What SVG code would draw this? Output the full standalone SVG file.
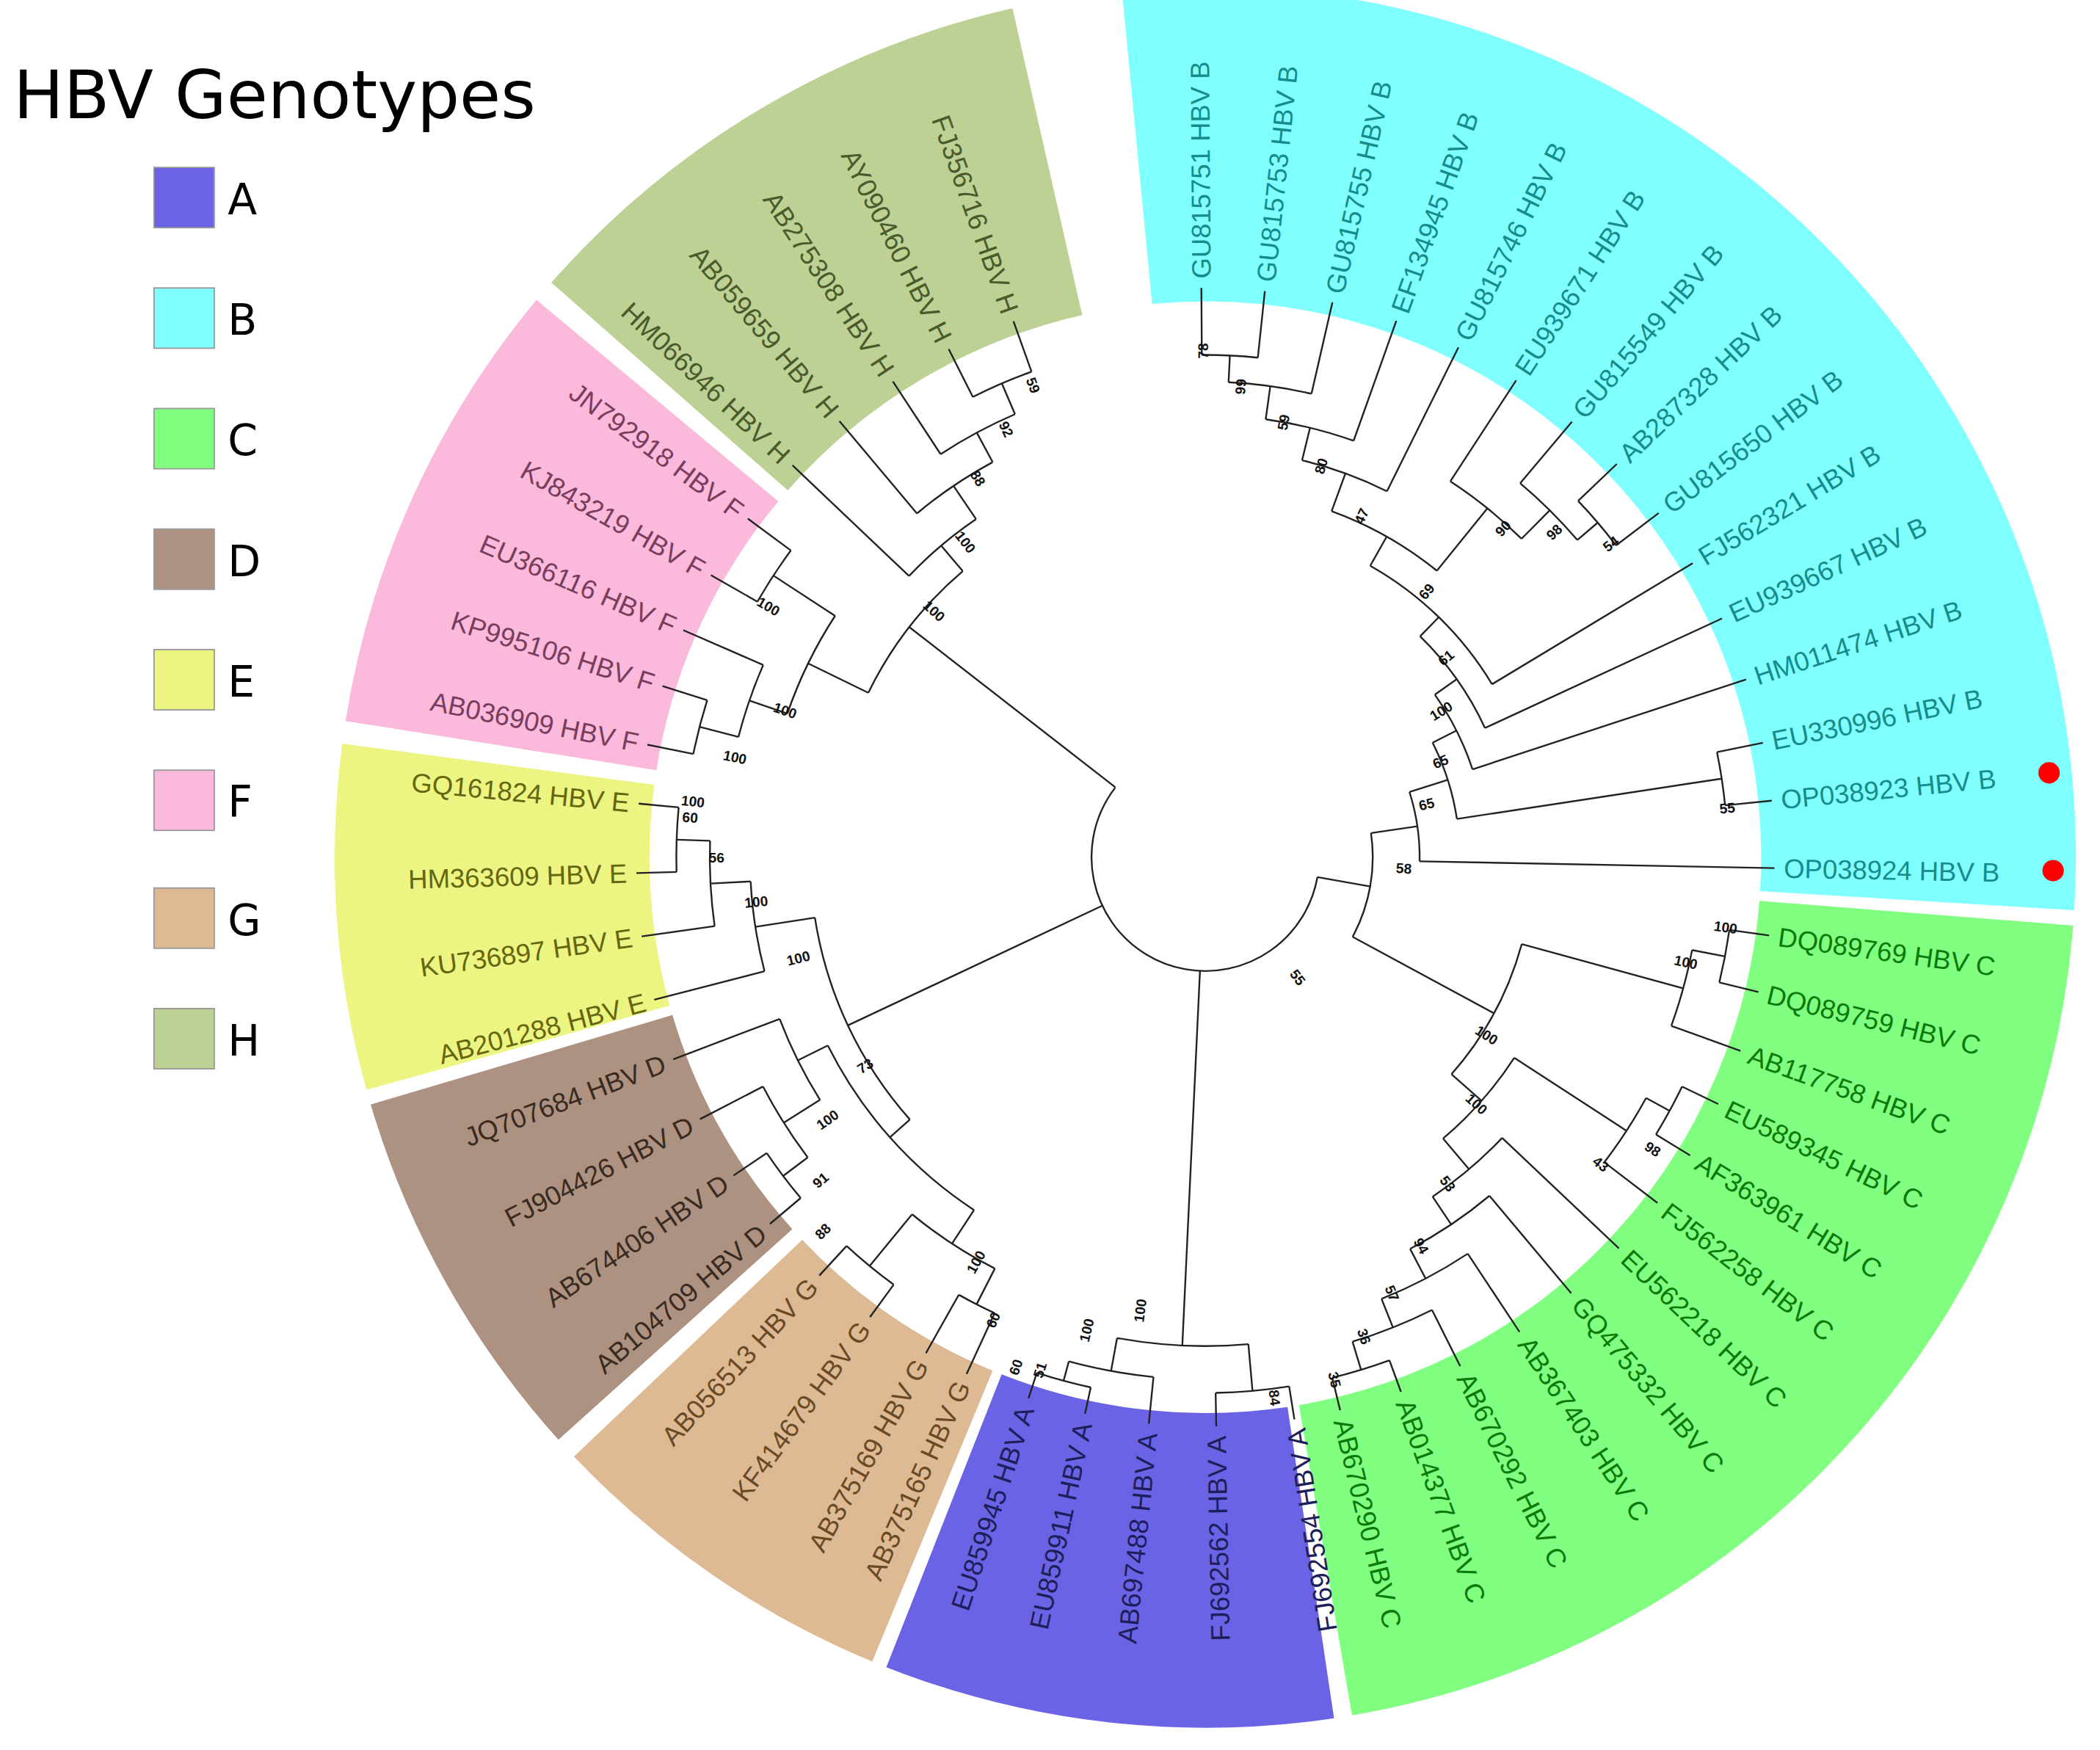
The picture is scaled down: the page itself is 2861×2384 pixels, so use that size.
<svg xmlns="http://www.w3.org/2000/svg" width="2861" height="2384" viewBox="0 0 2861 2384">
<style>
.t{fill:none;stroke:#222;stroke-width:1.3}
.band{fill:none;stroke-width:235}
.lb{font-family:"Liberation Sans",Arial,sans-serif;font-size:20px}
.L{text-anchor:end}
.bs{font-family:"Liberation Sans",Arial,sans-serif;font-size:10.5px;font-weight:bold;fill:#111;text-anchor:middle}
.lg{font-family:"DejaVu Sans",Verdana,sans-serif;fill:#000}
.cA{fill:#1e1e5a}.cB{fill:#178c8c}.cC{fill:#0a7a0a}.cD{fill:#3a2a20}.cE{fill:#66660f}.cF{fill:#7a3d5c}.cG{fill:#6a4a25}.cH{fill:#4b5a2b}
</style>
<rect width="2861" height="2384" fill="#fff"/>
<g transform="scale(1.8246)">
<g id="legend">
<text class="lg" x="10" y="88" font-size="50">HBV Genotypes</text>
<rect x="115" y="125" width="45" height="45" fill="#6b63e6" stroke="#999"/><text class="lg" x="170" y="160" font-size="32">A</text>
<rect x="115" y="215" width="45" height="45" fill="#80ffff" stroke="#999"/><text class="lg" x="170" y="250" font-size="32">B</text>
<rect x="115" y="305" width="45" height="45" fill="#80ff80" stroke="#999"/><text class="lg" x="170" y="340" font-size="32">C</text>
<rect x="115" y="395" width="45" height="45" fill="#ad9282" stroke="#999"/><text class="lg" x="170" y="430" font-size="32">D</text>
<rect x="115" y="485" width="45" height="45" fill="#ecf582" stroke="#999"/><text class="lg" x="170" y="520" font-size="32">E</text>
<rect x="115" y="575" width="45" height="45" fill="#fbb9dc" stroke="#999"/><text class="lg" x="170" y="610" font-size="32">F</text>
<rect x="115" y="663" width="45" height="45" fill="#deba94" stroke="#999"/><text class="lg" x="170" y="698" font-size="32">G</text>
<rect x="115" y="753" width="45" height="45" fill="#bdd194" stroke="#999"/><text class="lg" x="170" y="788" font-size="32">H</text>
</g>
<g transform="translate(900,640)">
<g id="bands">
<circle class="band" r="532.5" pathLength="360" stroke="#80ffff" stroke-dasharray="99 999" transform="rotate(-95.5)"/>
<circle class="band" r="532.5" pathLength="360" stroke="#80ff80" stroke-dasharray="75.8 999" transform="rotate(4.5)"/>
<circle class="band" r="532.5" pathLength="360" stroke="#6b63e6" stroke-dasharray="30 999" transform="rotate(81.5)"/>
<circle class="band" r="532.5" pathLength="360" stroke="#deba94" stroke-dasharray="24 999" transform="rotate(112.5)"/>
<circle class="band" r="532.5" pathLength="360" stroke="#ad9282" stroke-dasharray="25.5 999" transform="rotate(138)"/>
<circle class="band" r="532.5" pathLength="360" stroke="#ecf582" stroke-dasharray="23 999" transform="rotate(164.5)"/>
<circle class="band" r="532.5" pathLength="360" stroke="#fbb9dc" stroke-dasharray="30.8 999" transform="rotate(189)"/>
<circle class="band" r="532.5" pathLength="360" stroke="#bdd194" stroke-dasharray="35.9 999" transform="rotate(221.3)"/>
</g>
<g id="connectors" class="t">
<circle r="385" pathLength="360" stroke-dasharray="6.5 999" transform="rotate(-43.7)"/><path d="M385 0H425" transform="rotate(-37.2)"/><path d="M385 0H425" transform="rotate(-43.7)"/>
<circle r="365" pathLength="360" stroke-dasharray="9.45 999" transform="rotate(-49.9)"/><path d="M365 0H385" transform="rotate(-40.45)"/><path d="M365 0H425" transform="rotate(-49.9)"/>
<circle r="335" pathLength="360" stroke-dasharray="11.7 999" transform="rotate(-56.9)"/><path d="M335 0H365" transform="rotate(-45.2)"/><path d="M335 0H425" transform="rotate(-56.9)"/>
<circle r="375" pathLength="360" stroke-dasharray="6.4 999" transform="rotate(-90.4)"/><path d="M375 0H425" transform="rotate(-84)"/><path d="M375 0H425" transform="rotate(-90.4)"/>
<circle r="355" pathLength="360" stroke-dasharray="10.1 999" transform="rotate(-87.2)"/><path d="M355 0H375" transform="rotate(-87.2)"/><path d="M355 0H425" transform="rotate(-77.1)"/>
<circle r="330" pathLength="360" stroke-dasharray="11.75 999" transform="rotate(-82.15)"/><path d="M330 0H355" transform="rotate(-82.15)"/><path d="M330 0H425" transform="rotate(-70.4)"/>
<circle r="305" pathLength="360" stroke-dasharray="12.7 999" transform="rotate(-76.3)"/><path d="M305 0H330" transform="rotate(-76.3)"/><path d="M305 0H425" transform="rotate(-63.6)"/>
<circle r="275" pathLength="360" stroke-dasharray="18.9 999" transform="rotate(-69.95)"/><path d="M275 0H305" transform="rotate(-69.95)"/><path d="M275 0H335" transform="rotate(-51.05)"/>
<circle r="250" pathLength="360" stroke-dasharray="29.4 999" transform="rotate(-60.5)"/><path d="M250 0H275" transform="rotate(-60.5)"/><path d="M250 0H425" transform="rotate(-31.1)"/>
<circle r="230" pathLength="360" stroke-dasharray="21 999" transform="rotate(-45.8)"/><path d="M230 0H250" transform="rotate(-45.8)"/><path d="M230 0H425" transform="rotate(-24.8)"/>
<circle r="210" pathLength="360" stroke-dasharray="17.1 999" transform="rotate(-35.3)"/><path d="M210 0H230" transform="rotate(-35.3)"/><path d="M210 0H425" transform="rotate(-18.2)"/>
<circle r="390" pathLength="360" stroke-dasharray="5.9 999" transform="rotate(-11.6)"/><path d="M390 0H425" transform="rotate(-5.7)"/><path d="M390 0H425" transform="rotate(-11.6)"/>
<circle r="190" pathLength="360" stroke-dasharray="18.1 999" transform="rotate(-26.75)"/><path d="M190 0H210" transform="rotate(-26.75)"/><path d="M190 0H390" transform="rotate(-8.65)"/>
<circle r="160" pathLength="360" stroke-dasharray="18.8 999" transform="rotate(-17.7)"/><path d="M160 0H190" transform="rotate(-17.7)"/><path d="M160 0H425" transform="rotate(1.1)"/>
<circle r="395" pathLength="360" stroke-dasharray="5.8 999" transform="rotate(7.9)"/><path d="M395 0H425" transform="rotate(7.9)"/><path d="M395 0H425" transform="rotate(13.7)"/>
<circle r="370" pathLength="360" stroke-dasharray="9.1 999" transform="rotate(10.8)"/><path d="M370 0H395" transform="rotate(10.8)"/><path d="M370 0H425" transform="rotate(19.9)"/>
<circle r="395" pathLength="360" stroke-dasharray="5.9 999" transform="rotate(25.7)"/><path d="M395 0H425" transform="rotate(25.7)"/><path d="M395 0H425" transform="rotate(31.6)"/>
<circle r="375" pathLength="360" stroke-dasharray="8.75 999" transform="rotate(28.65)"/><path d="M375 0H395" transform="rotate(28.65)"/><path d="M375 0H425" transform="rotate(37.4)"/>
<circle r="400" pathLength="360" stroke-dasharray="6.4 999" transform="rotate(69.9)"/><path d="M400 0H425" transform="rotate(69.9)"/><path d="M400 0H425" transform="rotate(76.3)"/>
<circle r="378" pathLength="360" stroke-dasharray="9.7 999" transform="rotate(63.4)"/><path d="M378 0H425" transform="rotate(63.4)"/><path d="M378 0H400" transform="rotate(73.1)"/>
<circle r="355" pathLength="360" stroke-dasharray="11.75 999" transform="rotate(56.5)"/><path d="M355 0H425" transform="rotate(56.5)"/><path d="M355 0H378" transform="rotate(68.25)"/>
<circle r="330" pathLength="360" stroke-dasharray="12.4 999" transform="rotate(50)"/><path d="M330 0H425" transform="rotate(50)"/><path d="M330 0H355" transform="rotate(62.4)"/>
<circle r="305" pathLength="360" stroke-dasharray="12.8 999" transform="rotate(43.4)"/><path d="M305 0H425" transform="rotate(43.4)"/><path d="M305 0H330" transform="rotate(56.2)"/>
<circle r="275" pathLength="360" stroke-dasharray="16.8 999" transform="rotate(33)"/><path d="M275 0H375" transform="rotate(33)"/><path d="M275 0H305" transform="rotate(49.8)"/>
<circle r="245" pathLength="360" stroke-dasharray="26.05 999" transform="rotate(15.35)"/><path d="M245 0H370" transform="rotate(15.35)"/><path d="M245 0H275" transform="rotate(41.4)"/>
<circle r="125" pathLength="360" stroke-dasharray="36.7 999" transform="rotate(-8.3)"/><path d="M125 0H160" transform="rotate(-8.3)"/><path d="M125 0H245" transform="rotate(28.4)"/>
<path d="M85 0H125" transform="rotate(10.05)"/>
<circle r="405" pathLength="360" stroke-dasharray="5.9 999" transform="rotate(102.2)"/><path d="M405 0H425" transform="rotate(102.2)"/><path d="M405 0H425" transform="rotate(108.1)"/>
<circle r="390" pathLength="360" stroke-dasharray="9.45 999" transform="rotate(95.7)"/><path d="M390 0H425" transform="rotate(95.7)"/><path d="M390 0H405" transform="rotate(105.15)"/>
<circle r="400" pathLength="360" stroke-dasharray="7.9 999" transform="rotate(81)"/><path d="M400 0H425" transform="rotate(81)"/><path d="M400 0H425" transform="rotate(88.9)"/>
<circle r="365" pathLength="360" stroke-dasharray="15.45 999" transform="rotate(84.95)"/><path d="M365 0H400" transform="rotate(84.95)"/><path d="M365 0H390" transform="rotate(100.4)"/>
<path d="M85 0H365" transform="rotate(92.7)"/>
<circle r="375" pathLength="360" stroke-dasharray="4.6 999" transform="rotate(114.8)"/><path d="M375 0H425" transform="rotate(114.8)"/><path d="M375 0H425" transform="rotate(119.4)"/>
<circle r="395" pathLength="360" stroke-dasharray="6.6 999" transform="rotate(126.1)"/><path d="M395 0H425" transform="rotate(126.1)"/><path d="M395 0H425" transform="rotate(132.7)"/>
<circle r="345" pathLength="360" stroke-dasharray="12.3 999" transform="rotate(117.1)"/><path d="M345 0H375" transform="rotate(117.1)"/><path d="M345 0H395" transform="rotate(129.4)"/>
<circle r="395" pathLength="360" stroke-dasharray="6.1 999" transform="rotate(139.9)"/><path d="M395 0H425" transform="rotate(139.9)"/><path d="M395 0H425" transform="rotate(146)"/>
<circle r="372" pathLength="360" stroke-dasharray="9.65 999" transform="rotate(142.95)"/><path d="M372 0H395" transform="rotate(142.95)"/><path d="M372 0H425" transform="rotate(152.6)"/>
<circle r="340" pathLength="360" stroke-dasharray="11.4 999" transform="rotate(147.8)"/><path d="M340 0H372" transform="rotate(147.8)"/><path d="M340 0H425" transform="rotate(159.2)"/>
<circle r="315" pathLength="360" stroke-dasharray="30.25 999" transform="rotate(123.25)"/><path d="M315 0H345" transform="rotate(123.25)"/><path d="M315 0H340" transform="rotate(153.5)"/>
<circle r="395" pathLength="360" stroke-dasharray="7 999" transform="rotate(178.4)"/><path d="M395 0H425" transform="rotate(178.4)"/><path d="M395 0H425" transform="rotate(185.4)"/>
<circle r="370" pathLength="360" stroke-dasharray="9.9 999" transform="rotate(172)"/><path d="M370 0H425" transform="rotate(172)"/><path d="M370 0H395" transform="rotate(181.9)"/>
<circle r="340" pathLength="360" stroke-dasharray="11.45 999" transform="rotate(165.5)"/><path d="M340 0H425" transform="rotate(165.5)"/><path d="M340 0H370" transform="rotate(176.95)"/>
<circle r="295" pathLength="360" stroke-dasharray="32.8 999" transform="rotate(138.4)"/><path d="M295 0H315" transform="rotate(138.4)"/><path d="M295 0H340" transform="rotate(171.2)"/>
<path d="M85 0H295" transform="rotate(154.8)"/>
<circle r="390" pathLength="360" stroke-dasharray="6.1 999" transform="rotate(191.4)"/><path d="M390 0H425" transform="rotate(191.4)"/><path d="M390 0H425" transform="rotate(197.5)"/>
<circle r="360" pathLength="360" stroke-dasharray="9.05 999" transform="rotate(194.45)"/><path d="M360 0H390" transform="rotate(194.45)"/><path d="M360 0H425" transform="rotate(203.5)"/>
<circle r="385" pathLength="360" stroke-dasharray="6.8 999" transform="rotate(209.7)"/><path d="M385 0H425" transform="rotate(209.7)"/><path d="M385 0H425" transform="rotate(216.5)"/>
<circle r="330" pathLength="360" stroke-dasharray="14.15 999" transform="rotate(198.95)"/><path d="M330 0H360" transform="rotate(198.95)"/><path d="M330 0H385" transform="rotate(213.1)"/>
<circle r="385" pathLength="360" stroke-dasharray="7.1 999" transform="rotate(243.2)"/><path d="M385 0H425" transform="rotate(243.2)"/><path d="M385 0H425" transform="rotate(250.3)"/>
<circle r="360" pathLength="360" stroke-dasharray="10.05 999" transform="rotate(236.7)"/><path d="M360 0H425" transform="rotate(236.7)"/><path d="M360 0H385" transform="rotate(246.75)"/>
<circle r="335" pathLength="360" stroke-dasharray="11.7 999" transform="rotate(230)"/><path d="M335 0H425" transform="rotate(230)"/><path d="M335 0H360" transform="rotate(241.7)"/>
<circle r="305" pathLength="360" stroke-dasharray="12.35 999" transform="rotate(223.5)"/><path d="M305 0H425" transform="rotate(223.5)"/><path d="M305 0H335" transform="rotate(235.85)"/>
<circle r="280" pathLength="360" stroke-dasharray="23.7 999" transform="rotate(206)"/><path d="M280 0H330" transform="rotate(206)"/><path d="M280 0H305" transform="rotate(229.7)"/>
<path d="M85 0H280" transform="rotate(217.85)"/>
<circle r="85" pathLength="360" stroke-dasharray="207.8 999" transform="rotate(10.05)"/>
</g>
<g id="leaves" class="lb">
<g id="OP038924" class="cB"><text x="432" y="7" transform="rotate(1.1)">OP038924 HBV B</text></g>
<g id="OP038923" class="cB"><text x="432" y="7" transform="rotate(-5.7)">OP038923 HBV B</text></g>
<g id="EU330996" class="cB"><text x="432" y="7" transform="rotate(-11.6)">EU330996 HBV B</text></g>
<g id="HM011474" class="cB"><text x="432" y="7" transform="rotate(-18.2)">HM011474 HBV B</text></g>
<g id="EU939667" class="cB"><text x="432" y="7" transform="rotate(-24.8)">EU939667 HBV B</text></g>
<g id="FJ562321" class="cB"><text x="432" y="7" transform="rotate(-31.1)">FJ562321 HBV B</text></g>
<g id="GU815650" class="cB"><text x="432" y="7" transform="rotate(-37.2)">GU815650 HBV B</text></g>
<g id="AB287328" class="cB"><text x="432" y="7" transform="rotate(-43.7)">AB287328 HBV B</text></g>
<g id="GU815549" class="cB"><text x="432" y="7" transform="rotate(-49.9)">GU815549 HBV B</text></g>
<g id="EU939671" class="cB"><text x="432" y="7" transform="rotate(-56.9)">EU939671 HBV B</text></g>
<g id="GU815746" class="cB"><text x="432" y="7" transform="rotate(-63.6)">GU815746 HBV B</text></g>
<g id="EF134945" class="cB"><text x="432" y="7" transform="rotate(-70.4)">EF134945 HBV B</text></g>
<g id="GU815755" class="cB"><text x="432" y="7" transform="rotate(-77.1)">GU815755 HBV B</text></g>
<g id="GU815753" class="cB"><text x="432" y="7" transform="rotate(-84)">GU815753 HBV B</text></g>
<g id="GU815751" class="cB"><text x="432" y="7" transform="rotate(-90.4)">GU815751 HBV B</text></g>
<g id="DQ089769" class="cC"><text x="432" y="7" transform="rotate(7.9)">DQ089769 HBV C</text></g>
<g id="DQ089759" class="cC"><text x="432" y="7" transform="rotate(13.7)">DQ089759 HBV C</text></g>
<g id="AB117758" class="cC"><text x="432" y="7" transform="rotate(19.9)">AB117758 HBV C</text></g>
<g id="EU589345" class="cC"><text x="432" y="7" transform="rotate(25.7)">EU589345 HBV C</text></g>
<g id="AF363961" class="cC"><text x="432" y="7" transform="rotate(31.6)">AF363961 HBV C</text></g>
<g id="FJ562258" class="cC"><text x="432" y="7" transform="rotate(37.4)">FJ562258 HBV C</text></g>
<g id="EU562218" class="cC"><text x="432" y="7" transform="rotate(43.4)">EU562218 HBV C</text></g>
<g id="GQ475332" class="cC"><text x="432" y="7" transform="rotate(50)">GQ475332 HBV C</text></g>
<g id="AB367403" class="cC"><text x="432" y="7" transform="rotate(56.5)">AB367403 HBV C</text></g>
<g id="AB670292" class="cC"><text x="432" y="7" transform="rotate(63.4)">AB670292 HBV C</text></g>
<g id="AB014377" class="cC"><text x="432" y="7" transform="rotate(69.9)">AB014377 HBV C</text></g>
<g id="AB670290" class="cC"><text x="432" y="7" transform="rotate(76.3)">AB670290 HBV C</text></g>
<g id="EU859945" class="cA"><text class="L" x="-432" y="7" transform="rotate(288.1)">EU859945 HBV A</text></g>
<g id="EU859911" class="cA"><text class="L" x="-432" y="7" transform="rotate(282.2)">EU859911 HBV A</text></g>
<g id="AB697488" class="cA"><text class="L" x="-432" y="7" transform="rotate(275.7)">AB697488 HBV A</text></g>
<g id="FJ692562" class="cA"><text class="L" x="-432" y="7" transform="rotate(268.9)">FJ692562 HBV A</text></g>
<g id="FJ692554" class="cA"><text class="L" x="-432" y="7" transform="rotate(261)">FJ692554 HBV A</text></g>
<g id="AB056513" class="cG"><text class="L" x="-432" y="7" transform="rotate(312.7)">AB056513 HBV G</text></g>
<g id="KF414679" class="cG"><text class="L" x="-432" y="7" transform="rotate(306.1)">KF414679 HBV G</text></g>
<g id="AB375169" class="cG"><text class="L" x="-432" y="7" transform="rotate(299.4)">AB375169 HBV G</text></g>
<g id="AB375165" class="cG"><text class="L" x="-432" y="7" transform="rotate(294.8)">AB375165 HBV G</text></g>
<g id="JQ707684" class="cD"><text class="L" x="-432" y="7" transform="rotate(339.2)">JQ707684 HBV D</text></g>
<g id="FJ904426" class="cD"><text class="L" x="-432" y="7" transform="rotate(332.6)">FJ904426 HBV D</text></g>
<g id="AB674406" class="cD"><text class="L" x="-432" y="7" transform="rotate(326)">AB674406 HBV D</text></g>
<g id="AB104709" class="cD"><text class="L" x="-432" y="7" transform="rotate(319.9)">AB104709 HBV D</text></g>
<g id="GQ161824" class="cE"><text class="L" x="-432" y="7" transform="rotate(5.4)">GQ161824 HBV E</text></g>
<g id="HM363609" class="cE"><text class="L" x="-432" y="7" transform="rotate(-1.6)">HM363609 HBV E</text></g>
<g id="KU736897" class="cE"><text class="L" x="-432" y="7" transform="rotate(-8)">KU736897 HBV E</text></g>
<g id="AB201288" class="cE"><text class="L" x="-432" y="7" transform="rotate(-14.5)">AB201288 HBV E</text></g>
<g id="JN792918" class="cF"><text class="L" x="-432" y="7" transform="rotate(36.5)">JN792918 HBV F</text></g>
<g id="KJ843219" class="cF"><text class="L" x="-432" y="7" transform="rotate(29.7)">KJ843219 HBV F</text></g>
<g id="EU366116" class="cF"><text class="L" x="-432" y="7" transform="rotate(23.5)">EU366116 HBV F</text></g>
<g id="KP995106" class="cF"><text class="L" x="-432" y="7" transform="rotate(17.5)">KP995106 HBV F</text></g>
<g id="AB036909" class="cF"><text class="L" x="-432" y="7" transform="rotate(11.4)">AB036909 HBV F</text></g>
<g id="FJ356716" class="cH"><text class="L" x="-432" y="7" transform="rotate(70.3)">FJ356716 HBV H</text></g>
<g id="AY090460" class="cH"><text class="L" x="-432" y="7" transform="rotate(63.2)">AY090460 HBV H</text></g>
<g id="AB275308" class="cH"><text class="L" x="-432" y="7" transform="rotate(56.7)">AB275308 HBV H</text></g>
<g id="AB059659" class="cH"><text class="L" x="-432" y="7" transform="rotate(50)">AB059659 HBV H</text></g>
<g id="HM066946" class="cH"><text class="L" x="-432" y="7" transform="rotate(43.5)">HM066946 HBV H</text></g>
</g>
</g>
<g id="markers" fill="#f00">
<circle cx="1530" cy="577" r="8"/><circle cx="1533" cy="650" r="8"/>
</g>
<g id="bootstrap" class="bs">
<text transform="translate(902,262) rotate(-89.7)">78</text>
<text transform="translate(930,289) rotate(-85.2)">99</text>
<text transform="translate(962,316) rotate(-79.3)">59</text>
<text transform="translate(990,349) rotate(-73)">80</text>
<text transform="translate(1020,387) rotate(-65)">47</text>
<text transform="translate(1125,397) rotate(-47.7)">90</text>
<text transform="translate(1163,400) rotate(-42.8)">98</text>
<text transform="translate(1205,409) rotate(-37.6)">54</text>
<text transform="translate(1068,444) rotate(-50)">69</text>
<text transform="translate(1082,494) rotate(-39.5)">61</text>
<text transform="translate(1078,534) rotate(-31.7)">100</text>
<text transform="translate(1077,572) rotate(-22)">65</text>
<text transform="translate(1066,604) rotate(-13.5)">65</text>
<text transform="translate(1290,607) rotate(-5.4)">55</text>
<text transform="translate(1048,652) rotate(3)">58</text>
<text transform="translate(966,732) rotate(53)">55</text>
<text transform="translate(1288,696) rotate(7.6)">100</text>
<text transform="translate(1258,722) rotate(12.3)">100</text>
<text transform="translate(1108,776) rotate(32.4)">100</text>
<text transform="translate(1100,827) rotate(42.5)">100</text>
<text transform="translate(1193,872) rotate(37.9)">43</text>
<text transform="translate(1232,861) rotate(33.2)">98</text>
<text transform="translate(1078,886) rotate(53.6)">53</text>
<text transform="translate(1058,932) rotate(61)">94</text>
<text transform="translate(1036,967) rotate(67)">57</text>
<text transform="translate(1015,999) rotate(72)">36</text>
<text transform="translate(993,1031) rotate(76.5)">35</text>
<text transform="translate(948,1044) rotate(83)">84</text>
<text transform="translate(855,979) rotate(-82.4)">100</text>
<text transform="translate(815,994) rotate(-76.4)">100</text>
<text transform="translate(780,1024) rotate(-72.5)">51</text>
<text transform="translate(762,1022) rotate(-70)">60</text>
<text transform="translate(745,987) rotate(-66)">60</text>
<text transform="translate(732,944) rotate(-61)">100</text>
<text transform="translate(617,922) rotate(-44.5)">88</text>
<text transform="translate(615,884) rotate(-40)">91</text>
<text transform="translate(620,839) rotate(-35)">100</text>
<text transform="translate(648,799) rotate(-32)">73</text>
<text transform="translate(597,719) rotate(-14)">100</text>
<text transform="translate(565,677) rotate(-5.6)">100</text>
<text transform="translate(535,644)">56</text>
<text transform="translate(515,614) rotate(4.5)">60</text>
<text transform="translate(517,602) rotate(6.3)">100</text>
<text transform="translate(548,569) rotate(12)">100</text>
<text transform="translate(585,534) rotate(19.2)">100</text>
<text transform="translate(572,456) rotate(29.8)">100</text>
<text transform="translate(695,459) rotate(42)">100</text>
<text transform="translate(718,407) rotate(52.5)">100</text>
<text transform="translate(727,359) rotate(58.7)">88</text>
<text transform="translate(748,322) rotate(64.7)">92</text>
<text transform="translate(768,289) rotate(69.6)">59</text>
</g>
</g>
</svg>
